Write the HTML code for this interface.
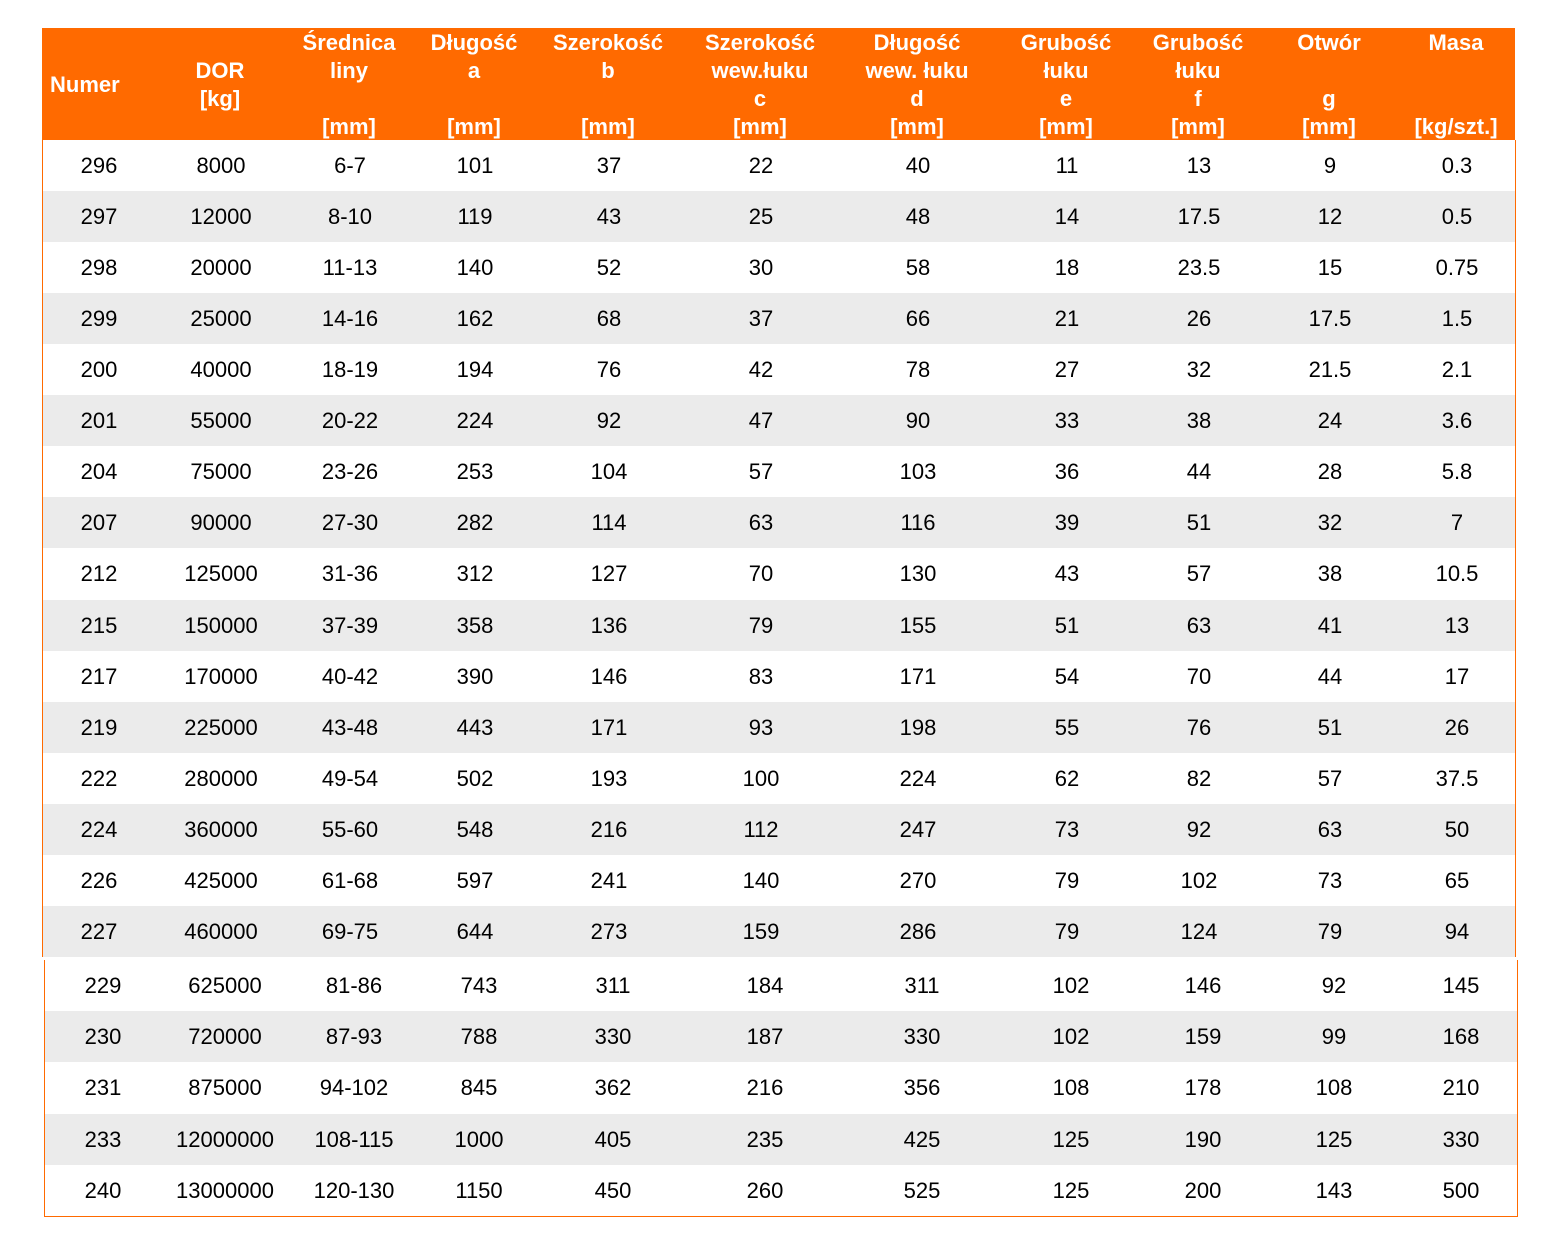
<!DOCTYPE html>
<html><head><meta charset="utf-8">
<style>
body{margin:0;width:1550px;height:1250px;background:#fff;position:relative;overflow:hidden;font-family:"Liberation Sans",Arial,sans-serif;}
.hdr{position:absolute;left:42px;top:28px;width:1473px;height:112px;background:#FF6A00;}
.ht{position:absolute;color:#fff;font-weight:bold;font-size:22px;line-height:28px;text-align:center;width:150px;white-space:pre;}
.blk{position:absolute;border-left:1px solid #FF6A00;border-right:1px solid #FF6A00;}
.row{position:absolute;left:0;height:51px;width:100%;}
.c{position:absolute;font-size:22px;line-height:51px;text-align:center;width:150px;color:#000;}
</style></head><body>
<div class="hdr"></div>
<div class="blk" id="b1" style="left:42px;top:140px;width:1472px;height:817px;"></div>
<div class="blk" id="b2" style="left:44px;top:960px;width:1472px;height:256px;border-bottom:1px solid #FF6A00;"></div>
<script>
const centers=[98,220,349,474,608,760,917,1066,1198,1329,1456];
const headers=[["","","Numer",""],["","DOR","[kg]",""],["Średnica","liny","","[mm]"],["Długość","a","","[mm]"],["Szerokość","b","","[mm]"],["Szerokość","wew.łuku","c","[mm]"],["Długość","wew. łuku","d","[mm]"],["Grubość","łuku","e","[mm]"],["Grubość","łuku","f","[mm]"],["Otwór","","g","[mm]"],["Masa","","","[kg/szt.]"]];
const rows1=[
["296","8000","6-7","101","37","22","40","11","13","9","0.3"],
["297","12000","8-10","119","43","25","48","14","17.5","12","0.5"],
["298","20000","11-13","140","52","30","58","18","23.5","15","0.75"],
["299","25000","14-16","162","68","37","66","21","26","17.5","1.5"],
["200","40000","18-19","194","76","42","78","27","32","21.5","2.1"],
["201","55000","20-22","224","92","47","90","33","38","24","3.6"],
["204","75000","23-26","253","104","57","103","36","44","28","5.8"],
["207","90000","27-30","282","114","63","116","39","51","32","7"],
["212","125000","31-36","312","127","70","130","43","57","38","10.5"],
["215","150000","37-39","358","136","79","155","51","63","41","13"],
["217","170000","40-42","390","146","83","171","54","70","44","17"],
["219","225000","43-48","443","171","93","198","55","76","51","26"],
["222","280000","49-54","502","193","100","224","62","82","57","37.5"],
["224","360000","55-60","548","216","112","247","73","92","63","50"],
["226","425000","61-68","597","241","140","270","79","102","73","65"],
["227","460000","69-75","644","273","159","286","79","124","79","94"]];
const rows2=[
["229","625000","81-86","743","311","184","311","102","146","92","145"],
["230","720000","87-93","788","330","187","330","102","159","99","168"],
["231","875000","94-102","845","362","216","356","108","178","108","210"],
["233","12000000","108-115","1000","405","235","425","125","190","125","330"],
["240","13000000","120-130","1150","450","260","525","125","200","143","500"]];
headers.forEach((h,i)=>{
  h.forEach((t,j)=>{
    if(!t) return;
    const d=document.createElement('div');
    d.className='ht';
    
    
    d.textContent=t;
    if(i===0){d.style.left='50px';d.style.textAlign='left';d.style.top=(71)+'px';}
    else{d.style.left=(centers[i]-75)+'px';d.style.top=(29+j*28)+'px';}
    document.body.appendChild(d);
  });
});
function fill(blk,rows,xoff,rh,startGray){
  rows.forEach((r,k)=>{
    const row=document.createElement('div');
    row.className='row';
    
    
    row.style.top=(k*rh)+'px';
    row.style.height=rh+'px';
    row.style.background=((k+startGray)%2)?'#EBEBEB':'#fff';
    r.forEach((v,i)=>{
      const c=document.createElement('div');
      c.className='c';
      
      
      c.style.left=(centers[i]-75-xoff)+'px';
      c.style.lineHeight=rh+'px';
      c.textContent=v;
      row.appendChild(c);
    });
    blk.appendChild(row);
  });
}
fill(document.getElementById('b1'),rows1,42,51.06,0);
fill(document.getElementById('b2'),rows2,40,51.2,0);
</script>
</body></html>
